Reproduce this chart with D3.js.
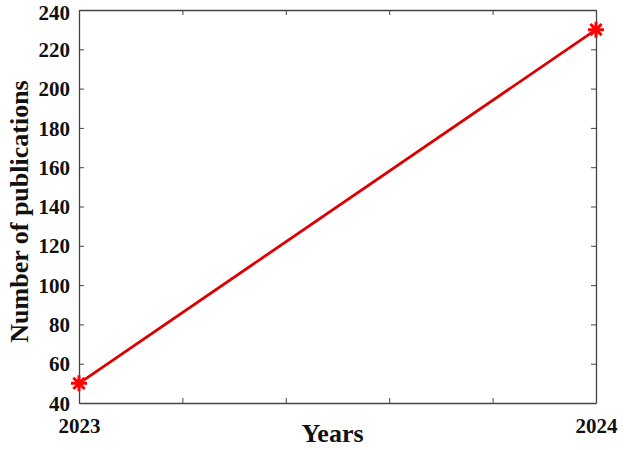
<!DOCTYPE html>
<html>
<head>
<meta charset="utf-8">
<script src="https://cdn.jsdelivr.net/npm/d3@7"></script>
<style>
  body { margin: 0; background: #fff; }
  .tick text { font-family: "Liberation Serif", "Times New Roman", serif; font-weight: bold; font-size: 21px; fill: #111; }
  .axisText { font-family: "Liberation Serif", "Times New Roman", serif; font-weight: bold; font-size: 26px; fill: #111; }
</style>
</head>
<body>
<div class="chart"></div>
<script>
var years = [2023, 2024];
var publications = [50, 230];
var yTicks = [40, 60, 80, 100, 120, 140, 160, 180, 200, 220, 240];
var xTicks = [2023, 2023.2, 2023.4, 2023.6, 2023.8, 2024];
var xTickLabels = ["2023", "", "", "", "", "2024"];

var svgWidth = 624;
var svgHeight = 450;

var margin = { top: 10, right: 28, bottom: 47, left: 79 };
var width = svgWidth - margin.left - margin.right;
var height = svgHeight - margin.top - margin.bottom;

var svg = d3.select(".chart")
  .append("svg")
  .attr("width", svgWidth)
  .attr("height", svgHeight);

var chartGroup = svg.append("g")
  .attr("transform", `translate(${margin.left}, ${margin.top})`);

var data = years.map((y, i) => ({ year: y, value: publications[i] }));

var xScale = d3.scaleLinear().domain([2023, 2024]).range([0, width]);
var yScale = d3.scaleLinear().domain([40, 240]).range([height, 0]);

var axisColor = "#444";

// bottom axis with inward ticks
var bottomAxis = d3.axisBottom(xScale)
  .tickValues(xTicks)
  .tickSizeInner(-5)
  .tickSizeOuter(0)
  .tickPadding(15)
  .tickFormat((d, i) => xTickLabels[i]);

var leftAxis = d3.axisLeft(yScale)
  .tickValues(yTicks)
  .tickSizeInner(-5)
  .tickSizeOuter(0)
  .tickPadding(9)
  .tickFormat(d3.format("d"));

// mirrored top and right ticks (box)
var topAxis = d3.axisTop(xScale).tickValues(xTicks).tickSizeInner(-5).tickSizeOuter(0).tickFormat("");
var rightAxis = d3.axisRight(yScale).tickValues(yTicks).tickSizeInner(-5).tickSizeOuter(0).tickFormat("");

var gx = chartGroup.append("g").attr("transform", `translate(0,${height})`).call(bottomAxis);
var gy = chartGroup.append("g").call(leftAxis);
var gt = chartGroup.append("g").call(topAxis);
var gr = chartGroup.append("g").attr("transform", `translate(${width},0)`).call(rightAxis);

[gx, gy, gt, gr].forEach(g => {
  g.select(".domain").attr("stroke", axisColor).attr("stroke-width", 1.3);
  g.selectAll(".tick line").attr("stroke", axisColor).attr("stroke-width", 1);
});
gx.selectAll(".tick text").attr("dy", "0.71em");
gy.selectAll(".tick text").attr("dy", d => d === 240 ? "0.45em" : "0.34em");

// line
var line = d3.line()
  .x(d => xScale(d.year))
  .y(d => yScale(d.value));

chartGroup.append("path")
  .datum(data)
  .attr("fill", "none")
  .attr("stroke", "#dd0000")
  .attr("stroke-width", 2.8)
  .attr("d", line);

// asterisk markers
chartGroup.selectAll(".marker")
  .data(data)
  .enter()
  .append("path")
  .attr("class", "marker")
  .attr("transform", d => `translate(${xScale(d.year)},${yScale(d.value)})`)
  .attr("d", function () {
    var r = 8, s = r * Math.SQRT1_2;
    return `M${-r},0L${r},0M0,${-r}L0,${r}M${-s},${-s}L${s},${s}M${-s},${s}L${s},${-s}`;
  })
  .attr("stroke", "#ff0000")
  .attr("stroke-width", 3)
  .attr("fill", "none");

// axis labels
chartGroup.append("text")
  .attr("class", "axisText")
  .attr("transform", `translate(${-51}, ${height / 2 + 5}) rotate(-90)`)
  .attr("text-anchor", "middle")
  .text("Number of publications");

chartGroup.append("text")
  .attr("class", "axisText")
  .attr("x", width / 2 - 5)
  .attr("y", height + 39)
  .attr("text-anchor", "middle")
  .text("Years");
</script>
</body>
</html>
